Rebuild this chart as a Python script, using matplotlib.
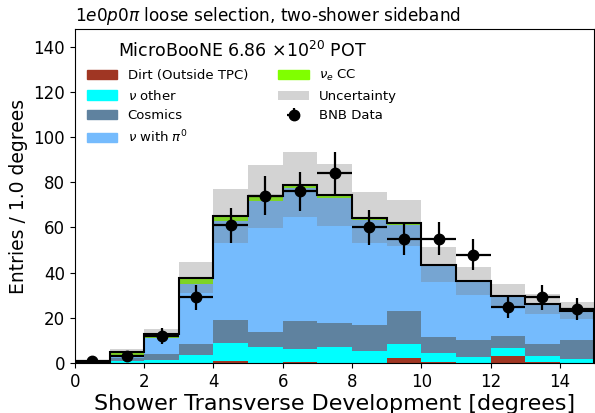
import numpy as np
import matplotlib
matplotlib.use("Agg")
import matplotlib.pyplot as plt
from matplotlib.patches import Patch

# binning: 15 bins of 1 degree
bin_edges = np.arange(0, 16, 1.0)

# stacked MC components (entries per bin)
dirt = [0.0, 0.0, 0.0, 0.0, 1.0, 0.0, 0.6, 0.0, 0.0, 2.2, 0.4, 0.0, 3.1, 0.4, 0.0]
nu_other = [0.0, 0.9, 1.3, 3.5, 7.7, 7.2, 5.6, 7.2, 5.4, 6.3, 4.2, 2.5, 3.4, 2.7, 1.9]
cosmics = [0.3, 1.4, 2.7, 5.0, 10.3, 6.6, 12.3, 10.6, 11.4, 14.4, 7.0, 7.6, 5.4, 5.4, 8.2]
nu_pi0 = [0.3, 0.9, 6.9, 26.3, 43.8, 57.8, 58.8, 55.3, 46.7, 38.1, 31.2, 25.9, 17.1, 17.5, 13.0]
nue_cc = [0.0, 1.5, 2.0, 3.0, 2.3, 2.1, 1.7, 1.3, 0.8, 0.8, 0.7, 0.3, 0.7, 0.0, 0.0]

# total MC uncertainty (half-width of the grey band)
mc_err = [0.6, 1.5, 2.0, 7.0, 11.8, 14.0, 14.5, 13.6, 11.2, 10.2, 7.7, 6.4, 5.1, 4.4, 3.8]

# BNB data counts
data = [1, 3, 12, 29, 61, 74, 76, 84, 60, 55, 55, 48, 25, 29, 24]

components = [
    (dirt, "#a03623", "Dirt (Outside TPC)"),
    (nu_other, "#00ffff", r"$\nu$ other"),
    (cosmics, "#5f829f", "Cosmics"),
    (nu_pi0, "#75bbfd", r"$\nu$ with $\pi^0$"),
    (nue_cc, "#80ff00", r"$\nu_e$ CC"),
]

fig = plt.figure(figsize=(5.95, 4.13), dpi=100)
ax = fig.add_axes([0.126, 0.121, 0.873, 0.8076])

left = bin_edges[:-1]
width = np.diff(bin_edges)
centers = left + width / 2

bottom = np.zeros(len(left))
for values, color, label in components:
    ax.bar(left, values, width=width, bottom=bottom, align="edge", color=color, linewidth=0)
    bottom = bottom + np.array(values)
total = bottom

# uncertainty band
err = np.array(mc_err)
ax.bar(left, 2 * err, width=width, bottom=total - err, align="edge",
       color="#797979", alpha=0.32, linewidth=0)

# total MC outline
ax.hist(centers, bins=bin_edges, weights=total, histtype="step", color="k", linewidth=1.5)

# data
data = np.array(data, dtype=float)
data_eb = ax.errorbar(centers, data, xerr=width / 2, yerr=np.sqrt(data), fmt="o", color="k",
                      markersize=7.5, elinewidth=1.6, capsize=0, label="BNB Data")

ax.set_xlim(0, 15)
ax.set_ylim(0, 147.6)
ax.set_xticks(np.arange(0, 15, 2))
ax.set_yticks(np.arange(0, 141, 20))
ax.tick_params(labelsize=12)

ax.set_xlabel("Shower Transverse Development [degrees]", fontsize=16, labelpad=2)
ax.set_ylabel("Entries / 1.0 degrees", fontsize=13.5)
ax.set_title(r"$1e0p0\pi$ loose selection, two-shower sideband", loc="left", fontsize=12.2)

handles = [Patch(color=c, label=l) for _, c, l in components[:4]]
handles.append(Patch(color=components[4][1], label=components[4][2]))
handles.append(Patch(color="#797979", alpha=0.32, label="Uncertainty", linewidth=0))
handles.append(data_eb)
leg = ax.legend(handles=handles, ncol=2, loc="upper left", frameon=False, fontsize=9.5,
                title=r"MicroBooNE 6.86 $\times 10^{20}$ POT", title_fontsize=12.5,
                handlelength=2.3, columnspacing=2.3)

fig.savefig("out.png", dpi=100)
